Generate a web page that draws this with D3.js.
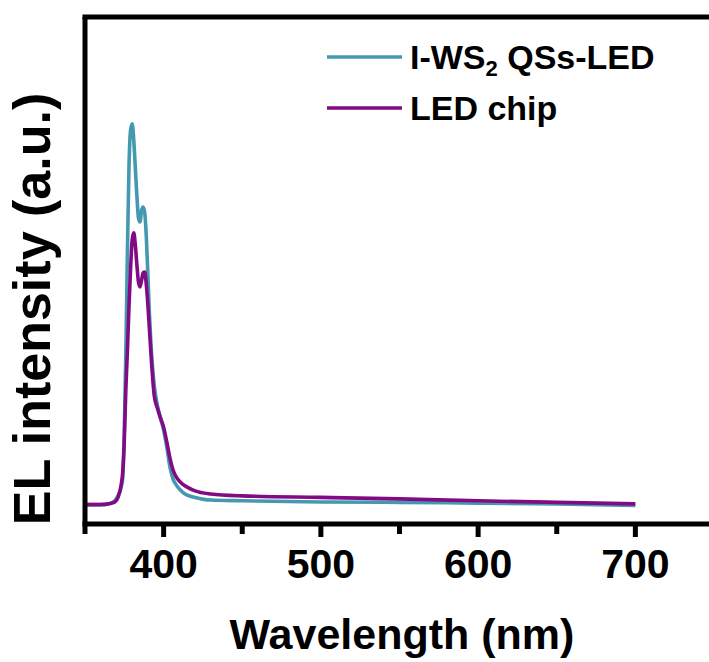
<!DOCTYPE html>
<html>
<head>
<meta charset="utf-8">
<script src="https://cdn.jsdelivr.net/npm/d3@7"></script>
<style>
  html, body { margin: 0; padding: 0; background: #fff; }
  svg { display: block; font-family: "Liberation Sans", Arial, Helvetica, sans-serif; }
</style>
</head>
<body>
<svg id="chart" width="709" height="662"></svg>
<script>
// Electroluminescence spectra, normalised arbitrary units
const wavelength = [350, 360, 366, 369, 371, 373, 374, 375, 376, 377, 378, 379, 380, 381, 382, 383, 384, 385, 386, 387, 388, 389, 390, 391, 392, 394, 396, 398, 400, 402, 404, 406, 408, 410, 412, 415, 420, 430, 450, 500, 550, 600, 650, 700];
const qsLed = [0.001, 0.001, 0.004, 0.011, 0.024, 0.047, 0.071, 0.197, 0.408, 0.671, 0.895, 0.987, 1.003, 0.961, 0.887, 0.813, 0.755, 0.745, 0.776, 0.784, 0.768, 0.705, 0.605, 0.500, 0.421, 0.316, 0.263, 0.229, 0.197, 0.153, 0.100, 0.068, 0.053, 0.042, 0.034, 0.026, 0.020, 0.013, 0.011, 0.008, 0.007, 0.005, 0.003, -0.001];
const ledChip = [0.001, 0.001, 0.004, 0.008, 0.020, 0.053, 0.087, 0.171, 0.308, 0.408, 0.526, 0.624, 0.697, 0.716, 0.684, 0.632, 0.587, 0.574, 0.592, 0.611, 0.613, 0.579, 0.526, 0.461, 0.395, 0.289, 0.255, 0.229, 0.205, 0.166, 0.124, 0.092, 0.074, 0.063, 0.055, 0.047, 0.037, 0.029, 0.024, 0.020, 0.016, 0.011, 0.007, 0.003];
const xMajorTicks = [400, 500, 600, 700];
const xMinorTicks = [350, 450, 550, 650];
const seriesNames = ["I-WS", "LED chip"];
const seriesColors = ["#4499b1", "#820a84"];

const svg = d3.select("#chart");
const plotLeft = 85, plotRight = 714, plotTop = 17, plotBottom = 524;

const x = d3.scaleLinear().domain([350, 750]).range([plotLeft, plotRight]);
const y = d3.scaleLinear().domain([-0.05, 1.284]).range([plotBottom, plotTop]);

// spectra
const line = vals => d3.line()
  .x((d, i) => x(wavelength[i]))
  .y(d => y(d))
  .curve(d3.curveMonotoneX)(vals);

[qsLed, ledChip].forEach((vals, k) => {
  svg.append("path")
    .attr("d", line(vals))
    .attr("fill", "none")
    .attr("stroke", seriesColors[k])
    .attr("stroke-width", 3.6)
    .attr("stroke-linejoin", "round");
});

// frame: top and left borders
svg.append("line").attr("x1", plotLeft - 2.5).attr("x2", 709).attr("y1", plotTop).attr("y2", plotTop)
  .attr("stroke", "#000").attr("stroke-width", 5);
svg.append("line").attr("x1", plotLeft).attr("x2", plotLeft).attr("y1", plotTop).attr("y2", plotBottom)
  .attr("stroke", "#000").attr("stroke-width", 5);

// bottom axis
const xAxis = svg.append("g").attr("transform", `translate(0,${plotBottom})`);
xAxis.append("line").attr("x1", plotLeft - 2.5).attr("x2", 709).attr("y1", 0).attr("y2", 0)
  .attr("stroke", "#000").attr("stroke-width", 5);
xAxis.selectAll(".major").data(xMajorTicks).join("line")
  .attr("x1", d => x(d)).attr("x2", d => x(d)).attr("y1", 0).attr("y2", 13)
  .attr("stroke", "#000").attr("stroke-width", 5);
xAxis.selectAll(".minor").data(xMinorTicks).join("line")
  .attr("x1", d => x(d)).attr("x2", d => x(d)).attr("y1", 0).attr("y2", 10)
  .attr("stroke", "#000").attr("stroke-width", 5);
xAxis.selectAll(".lbl").data(xMajorTicks).join("text")
  .attr("x", d => x(d)).attr("y", 54)
  .attr("text-anchor", "middle")
  .attr("font-size", 41).attr("font-weight", "bold")
  .text(d => d);

// axis titles
svg.append("text")
  .attr("x", 402).attr("y", 649)
  .attr("text-anchor", "middle")
  .attr("font-size", 43).attr("font-weight", "bold")
  .text("Wavelength (nm)");
svg.append("text")
  .attr("transform", "translate(50,309) rotate(-90)")
  .attr("text-anchor", "middle")
  .attr("font-size", 52).attr("font-weight", "bold")
  .text("EL intensity (a.u.)");

// legend
const legend = svg.append("g");
const legendY = [57, 108];
legendY.forEach((ly, k) => {
  legend.append("line").attr("x1", 327).attr("x2", 402).attr("y1", ly).attr("y2", ly)
    .attr("stroke", seriesColors[k]).attr("stroke-width", 3.6);
});
const t1 = legend.append("text").attr("x", 410).attr("y", legendY[0] + 12)
  .attr("font-size", 34).attr("font-weight", "bold");
t1.append("tspan").text(seriesNames[0]);
t1.append("tspan").attr("font-size", 22).attr("dy", 7).text("2");
t1.append("tspan").attr("dy", -7).text(" QSs-LED");
legend.append("text").attr("x", 410).attr("y", legendY[1] + 12)
  .attr("font-size", 34).attr("font-weight", "bold")
  .text(seriesNames[1]);
</script>
</body>
</html>
